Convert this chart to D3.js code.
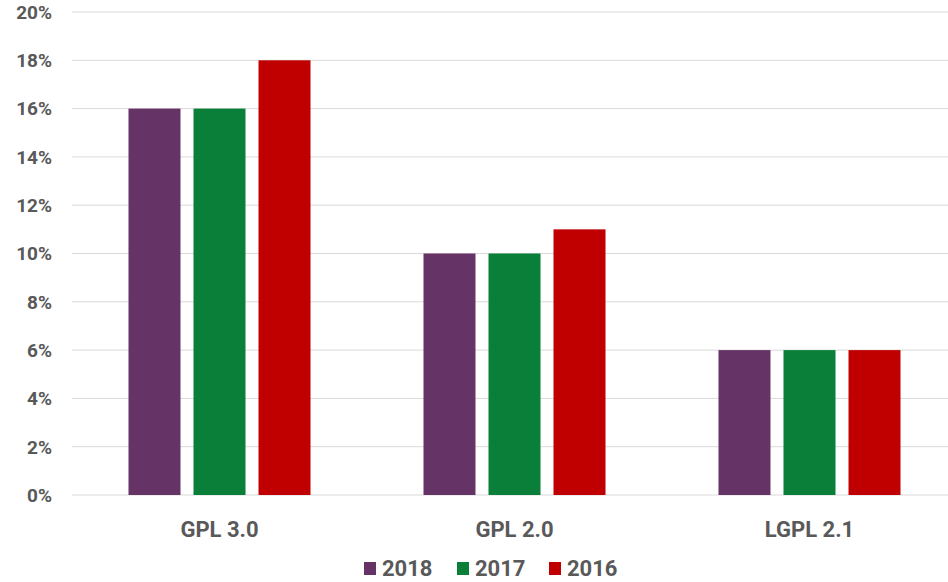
<!DOCTYPE html>
<html><head><meta charset="utf-8">
<script src="https://cdn.jsdelivr.net/npm/d3@7"></script>
<style>body{margin:0;background:#fff;}svg{display:block;font-family:Roboto,"Noto Sans",sans-serif;}</style>
</head><body>
<svg id="c" width="948" height="582"></svg>
<script>
const categories = ["GPL 3.0", "GPL 2.0", "LGPL 2.1"];
const seriesNames = ["2018", "2017", "2016"];
const values2018 = [16, 10, 6];
const values2017 = [16, 10, 6];
const values2016 = [18, 11, 6];
const yTicks = [0, 2, 4, 6, 8, 10, 12, 14, 16, 18, 20];
const colors = ["#663366", "#0a7f3a", "#c00000"];

const seriesValues = [values2018, values2017, values2016];
const svg = d3.select("#c");
const x0 = d3.scaleBand().domain(categories).range([72, 957]).padding(0);
const x1 = d3.scaleBand().domain(seriesNames).range([0, x0.bandwidth()]).paddingInner(0.2).paddingOuter(0.869);
const y = d3.scaleLinear().domain([0, 20]).range([495, 12]);

// gridlines
svg.append("g").selectAll("line").data(yTicks).join("line")
  .attr("x1", 72).attr("x2", 948)
  .attr("y1", d => y(d)).attr("y2", d => y(d))
  .attr("stroke", "#d9d9d9").attr("stroke-width", 1);

// y labels
svg.append("g").selectAll("text").data(yTicks).join("text")
  .attr("x", 52).attr("y", d => y(d)).attr("dy", "0.36em")
  .attr("text-anchor", "end").attr("fill", "#595959")
  .attr("font-size", 19).attr("font-weight", "bold")
  .text(d => d + "%");

// bars
const g = svg.append("g");
categories.forEach((c, ci) => {
  seriesNames.forEach((s, si) => {
    const v = seriesValues[si][ci];
    g.append("rect")
      .attr("x", x0(c) + x1(s)).attr("width", x1.bandwidth())
      .attr("y", y(v)).attr("height", y(0) - y(v))
      .attr("fill", colors[si]);
  });
});

// x labels
svg.append("g").selectAll("text").data(categories).join("text")
  .attr("x", d => x0(d) + x0.bandwidth() / 2).attr("y", 537)
  .attr("text-anchor", "middle").attr("fill", "#595959")
  .attr("font-size", 22).attr("font-weight", "bold")
  .text(d => d);

// legend
const legendX = [364, 457, 549];
const lg = svg.append("g");
seriesNames.forEach((s, i) => {
  lg.append("rect").attr("x", legendX[i]).attr("y", 562).attr("width", 12).attr("height", 13).attr("fill", colors[i]);
  lg.append("text").attr("x", legendX[i] + 18).attr("y", 576)
    .attr("fill", "#595959").attr("font-size", 22).attr("font-weight", "bold").text(s);
});
</script>
</body></html>
